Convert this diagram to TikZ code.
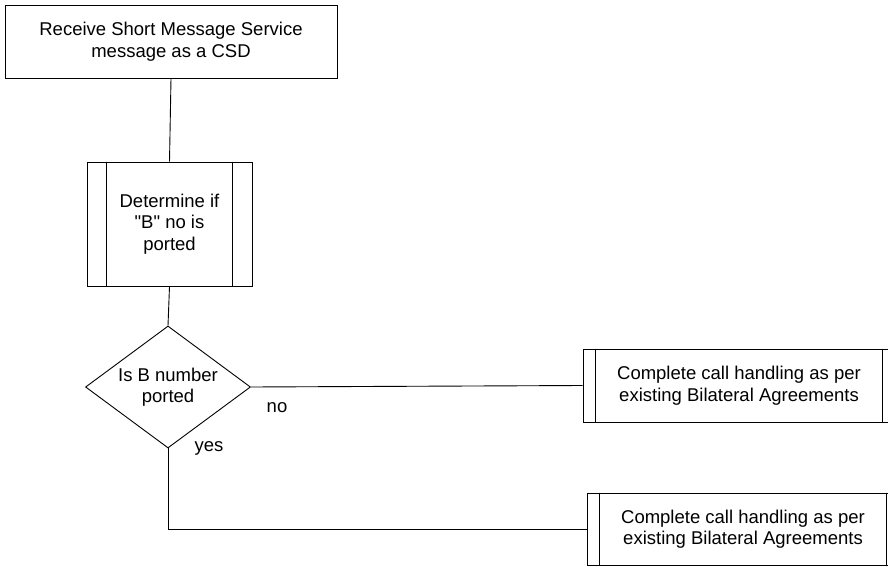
\documentclass[tikz,border=0pt]{standalone}
\usepackage{fontspec}
\setmainfont{Liberation Sans}[Ligatures=TeXOff]
\usetikzlibrary{shapes.geometric}

\begin{document}
\begin{tikzpicture}[x=1pt, y=-1pt,
    every node/.style={font=\fontsize{18.5}{21.5}\selectfont, align=center},
    stepbox/.style={draw, line width=0.9pt, inner sep=0pt},
    decbox/.style={diamond, draw, line width=0.9pt, inner sep=0pt, minimum width=165pt, minimum height=122pt},
    link/.style={line width=0.9pt}]
      \useasboundingbox (0,0) rectangle (888,567);
      \clip (0,0) rectangle (888,567);

      \node[stepbox, minimum width=332pt, minimum height=73pt] (recv) at (171,41.5)
        {Receive Short Message Service\\message as a CSD};

      \node[stepbox, minimum width=165pt, minimum height=124pt] (det) at (169.5,224)
        {Determine if\\"B" no is\\ported};
      \draw[link] ([xshift=20pt]det.north west) -- ([xshift=20pt]det.south west);
      \draw[link] ([xshift=-20pt]det.north east) -- ([xshift=-20pt]det.south east);

      \node[decbox] (dec) at (168,387) {};
      \node (dectext) at (dec.center) {Is B number\\ported};

      \node[stepbox, minimum width=312pt, minimum height=73pt] (nobox) at (739,385.5)
        {Complete call handling as per\\existing Bilateral Agreements};
      \draw[link] ([xshift=13pt]nobox.north west) -- ([xshift=13pt]nobox.south west);
      \draw[link] ([xshift=-13pt]nobox.north east) -- ([xshift=-13pt]nobox.south east);

      \node[stepbox, minimum width=312pt, minimum height=72pt] (yesbox) at (743,529)
        {Complete call handling as per\\existing Bilateral Agreements};
      \draw[link] ([xshift=13pt]yesbox.north west) -- ([xshift=13pt]yesbox.south west);
      \draw[link] ([xshift=-13pt]yesbox.north east) -- ([xshift=-13pt]yesbox.south east);

      \draw[link] (recv.south) -- (det.north);
      \draw[link] (det.south) -- (dec.north);
      \draw[link] (dec.east) -- (nobox.west);
      \draw[link] (dec.south) |- (yesbox.west);

      \node (no) at (277,408) {no};
      \node (yes) at (209,448) {yes};
    \end{tikzpicture}
\end{document}
